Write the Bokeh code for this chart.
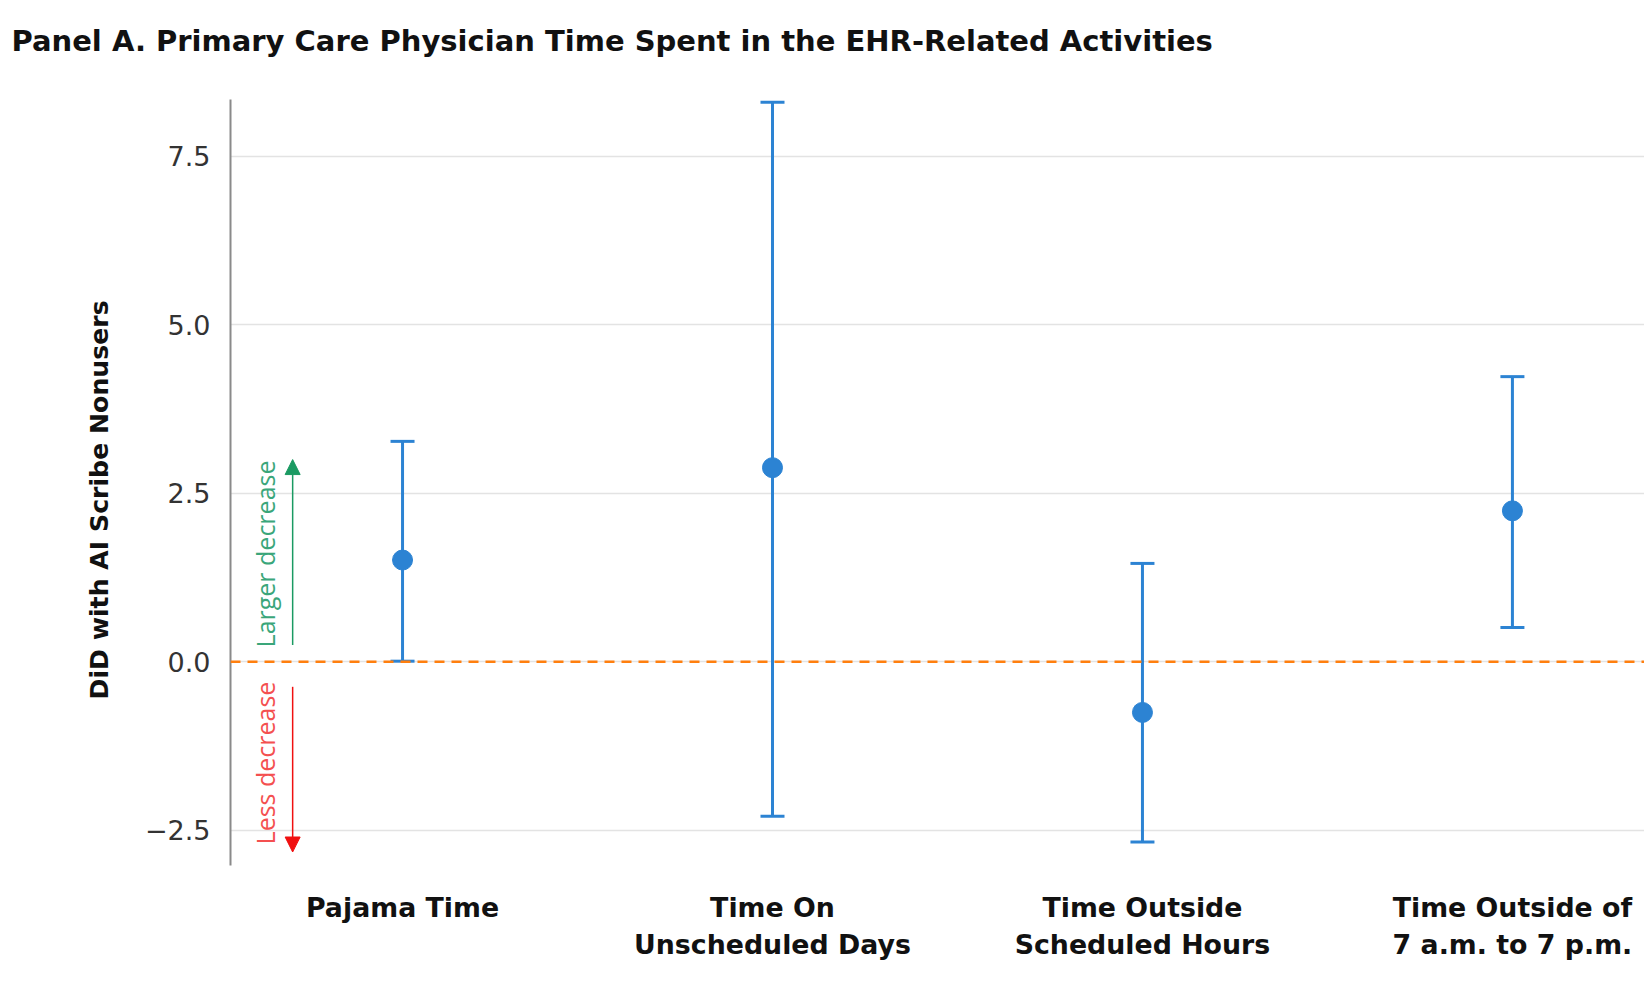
import math
from bokeh.plotting import figure
from bokeh.models import (Range1d, FixedTicker, Span, Whisker, TeeHead, ColumnDataSource,
                          Arrow, NormalHead, Label, Title)
from bokeh.embed import file_html
from bokeh.resources import INLINE

# ---- data ----
categories = ["Pajama Time", "Time On\nUnscheduled Days", "Time Outside\nScheduled Hours",
              "Time Outside of\n7 a.m. to 7 p.m."]
estimate = [1.51, 2.88, -0.75, 2.24]
ci_lower = [0.01, -2.29, -2.67, 0.51]
ci_upper = [3.27, 8.30, 1.46, 4.23]
y_tick_values = [-2.5, 0.0, 2.5, 5.0, 7.5]
y_tick_labels = ["\u22122.5", "0.0", "2.5", "5.0", "7.5"]
y_axis_title = "DiD with AI Scribe Nonusers"

# annotation arrows (data units)
larger_arrow = (0.25, 3.0)
less_arrow = (-0.37, -2.82)
larger_text_y = 1.6
less_text_y = -1.5
annot_x_arrow = -0.297
annot_x_text = -0.372

FONT = "DejaVu Sans"
BLUE = "#2c83d3"

xpos = list(range(len(categories)))
src = ColumnDataSource(dict(x=xpos, est=estimate, lo=ci_lower, hi=ci_upper))

p = figure(width=1644, height=986, output_backend="svg", toolbar_location=None,
           x_range=Range1d(-0.465, 3.357), y_range=Range1d(-3.02, 8.34),
           min_border_left=230, min_border_right=0, min_border_top=99, min_border_bottom=121)
p.outline_line_color = None
p.background_fill_color = "white"

p.title.text = "Panel A. Primary Care Physician Time Spent in the EHR-Related Activities"
p.title.text_font = FONT
p.title.text_font_size = "29px"
p.title.text_font_style = "bold"
p.title.text_color = "#111111"
p.title.align = "left"
p.title.vertical_align = "top"
p.title.offset = -219
p.title.standoff = 46
p.title.padding = dict(left=0, right=0, top=0, bottom=17)

# grid
p.xgrid.visible = False
p.ygrid.ticker = FixedTicker(ticks=y_tick_values)
p.ygrid.grid_line_color = "#e3e3e3"
p.ygrid.grid_line_width = 1.5

# y axis
p.yaxis.ticker = FixedTicker(ticks=y_tick_values)
p.yaxis.major_label_overrides = {v: l for v, l in zip(y_tick_values, y_tick_labels)}
p.yaxis.axis_line_color = "#8a8a8a"
p.yaxis.axis_line_width = 2
p.yaxis.major_tick_line_color = None
p.yaxis.minor_tick_line_color = None
p.yaxis.major_label_text_font = FONT
p.yaxis.major_label_text_font_size = "27px"
p.yaxis.major_label_text_color = "#333333"
p.yaxis.major_label_standoff = 14

# y axis title (sits slightly below the frame centre, as in the original)
p.add_layout(Title(text=y_axis_title, align="left", offset=166, standoff=56, text_font=FONT,
                   text_font_size="25.2px", text_font_style="bold", text_color="#111111"),
             "left")

# x axis
p.xaxis.ticker = FixedTicker(ticks=xpos)
p.xaxis.major_label_overrides = {i: c for i, c in zip(xpos, categories)}
p.xaxis.axis_line_color = None
p.xaxis.major_tick_line_color = None
p.xaxis.minor_tick_line_color = None
p.xaxis.major_label_text_font = FONT
p.xaxis.major_label_text_font_size = "26.8px"
p.xaxis.major_label_text_font_style = "bold"
p.xaxis.major_label_text_color = "#111111"
p.xaxis.major_label_standoff = 20

# zero line
p.add_layout(Span(location=0, dimension="width", line_color="#ff7f0e", line_width=2.5,
                  line_dash="10 7"))

# error bars
p.add_layout(Whisker(source=src, base="x", lower="lo", upper="hi", line_color=BLUE, line_width=3,
                     upper_head=TeeHead(size=24, line_color=BLUE, line_width=3),
                     lower_head=TeeHead(size=24, line_color=BLUE, line_width=3)))
p.scatter("x", "est", source=src, size=20, color=BLUE)

# direction annotations
p.add_layout(Arrow(x_start=annot_x_arrow, y_start=larger_arrow[0], x_end=annot_x_arrow,
                   y_end=larger_arrow[1], line_color="#1a9a62", line_width=1.5,
                   end=NormalHead(size=15, fill_color="#1a9a62", line_color="#1a9a62")))
p.add_layout(Arrow(x_start=annot_x_arrow, y_start=less_arrow[0], x_end=annot_x_arrow,
                   y_end=less_arrow[1], line_color="#f01010", line_width=1.5,
                   end=NormalHead(size=15, fill_color="#f01010", line_color="#f01010")))
p.add_layout(Label(x=annot_x_text, y=larger_text_y, text="Larger decrease", angle=math.pi / 2,
                   text_align="center", text_baseline="middle", text_font="Open Sans",
                   text_font_size="25px", text_color="#3aa67a"))
p.add_layout(Label(x=annot_x_text, y=less_text_y, text="Less decrease", angle=math.pi / 2,
                   text_align="center", text_baseline="middle", text_font="Open Sans",
                   text_font_size="25px", text_color="#f45050"))

open("out.html", "w").write(file_html(p, INLINE))
